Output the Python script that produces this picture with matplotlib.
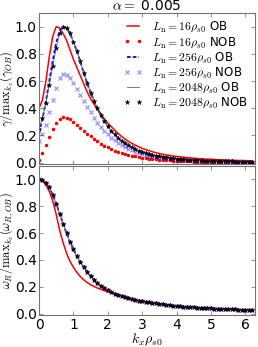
import numpy as np
import matplotlib
matplotlib.use("Agg")
import matplotlib.pyplot as plt

plt.rcParams["mathtext.fontset"] = "cm"
plt.rcParams["font.family"] = "DejaVu Sans"
plt.rcParams["xtick.direction"] = "in"
plt.rcParams["ytick.direction"] = "in"
plt.rcParams["xtick.top"] = True
plt.rcParams["ytick.right"] = True

# ---- k_x grid
kx = [0.0, 0.1, 0.2, 0.3, 0.4, 0.5, 0.6, 0.7, 0.8, 0.9,
      1.0, 1.1, 1.2, 1.3, 1.4, 1.5, 1.6, 1.7, 1.8, 1.9,
      2.0, 2.1, 2.2, 2.3, 2.4, 2.5, 2.6, 2.7, 2.8, 2.9,
      3.0, 3.1, 3.2, 3.3, 3.4, 3.5, 3.6, 3.7, 3.8, 3.9,
      4.0, 4.1, 4.2, 4.3, 4.4, 4.5, 4.6, 4.7, 4.8, 4.9,
      5.0, 5.1, 5.2, 5.3, 5.4, 5.5, 5.6, 5.7, 5.8, 5.9,
      6.0, 6.1, 6.2]

# ---- growth rate, normalised
gam_16_ob = [0.40, 0.46, 0.60, 0.78, 0.93, 1.00, 0.99, 0.95, 0.90, 0.83,
             0.76, 0.70, 0.64, 0.58, 0.52, 0.47, 0.43, 0.39, 0.355, 0.322,
             0.292, 0.265, 0.24, 0.215, 0.193, 0.174, 0.157, 0.142, 0.128, 0.116,
             0.105, 0.096, 0.088, 0.080, 0.073, 0.067, 0.062, 0.057, 0.053, 0.049,
             0.046, 0.043, 0.040, 0.037, 0.035, 0.033, 0.031, 0.029, 0.027, 0.026,
             0.025, 0.023, 0.022, 0.021, 0.020, 0.019, 0.018, 0.017, 0.016, 0.016,
             0.015, 0.014, 0.014]
gam_16_nob = [0.02, 0.07, 0.13, 0.19, 0.245, 0.288, 0.318, 0.333, 0.33, 0.318,
              0.30, 0.28, 0.258, 0.236, 0.214, 0.193, 0.174, 0.156, 0.140, 0.125,
              0.112, 0.100, 0.089, 0.080, 0.071, 0.064, 0.057, 0.051, 0.046, 0.041,
              0.037, 0.033, 0.030, 0.027, 0.024, 0.022, 0.020, 0.018, 0.016, 0.015,
              0.013, 0.012, 0.011, 0.010, 0.009, 0.008, 0.008, 0.007, 0.006, 0.006,
              0.005, 0.005, 0.005, 0.004, 0.004, 0.004, 0.004, 0.003, 0.003, 0.003,
              0.003, 0.003, 0.003]
gam_256_ob = [0.22, 0.32, 0.45, 0.60, 0.75, 0.88, 0.97, 1.00, 0.99, 0.95,
              0.89, 0.82, 0.745, 0.66, 0.585, 0.515, 0.455, 0.40, 0.35, 0.305,
              0.268, 0.235, 0.207, 0.182, 0.16, 0.142, 0.126, 0.112, 0.10, 0.089,
              0.080, 0.072, 0.065, 0.058, 0.052, 0.047, 0.043, 0.039, 0.035, 0.032,
              0.029, 0.027, 0.025, 0.023, 0.021, 0.019, 0.018, 0.016, 0.015, 0.014,
              0.013, 0.012, 0.011, 0.011, 0.010, 0.009, 0.009, 0.008, 0.008, 0.007,
              0.007, 0.007, 0.006]
gam_256_nob = [0.16, 0.21, 0.28, 0.37, 0.46, 0.55, 0.62, 0.65, 0.645, 0.62,
               0.585, 0.545, 0.50, 0.455, 0.41, 0.37, 0.33, 0.295, 0.262, 0.233,
               0.207, 0.184, 0.163, 0.145, 0.129, 0.115, 0.102, 0.091, 0.081, 0.072,
               0.065, 0.058, 0.052, 0.047, 0.042, 0.038, 0.034, 0.031, 0.028, 0.025,
               0.023, 0.021, 0.019, 0.017, 0.016, 0.015, 0.013, 0.012, 0.011, 0.010,
               0.010, 0.009, 0.008, 0.008, 0.007, 0.007, 0.006, 0.006, 0.005, 0.005,
               0.005, 0.004, 0.004]
gam_2048 = [0.25, 0.33, 0.44, 0.57, 0.71, 0.84, 0.95, 1.00, 0.99, 0.95,
            0.89, 0.82, 0.745, 0.66, 0.585, 0.515, 0.455, 0.40, 0.35, 0.305,
            0.268, 0.235, 0.207, 0.182, 0.16, 0.142, 0.126, 0.112, 0.10, 0.089,
            0.080, 0.072, 0.065, 0.058, 0.052, 0.047, 0.043, 0.039, 0.035, 0.032,
            0.029, 0.027, 0.025, 0.023, 0.021, 0.019, 0.018, 0.016, 0.015, 0.014,
            0.013, 0.012, 0.011, 0.011, 0.010, 0.009, 0.009, 0.008, 0.008, 0.007,
            0.007, 0.007, 0.006]

# ---- real frequency, normalised (all but 16 OB lie on one curve)
om_16_ob = [1.0, 0.99, 0.96, 0.91, 0.84, 0.74, 0.62, 0.53, 0.45, 0.39,
            0.345, 0.308, 0.277, 0.252, 0.232, 0.216, 0.202, 0.191, 0.181, 0.171,
            0.162, 0.155, 0.147, 0.140, 0.133, 0.126, 0.119, 0.112, 0.106, 0.100,
            0.094, 0.089, 0.084, 0.080, 0.076, 0.072, 0.069, 0.066, 0.063, 0.060,
            0.057, 0.055, 0.053, 0.051, 0.049, 0.047, 0.045, 0.044, 0.042, 0.041,
            0.039, 0.038, 0.037, 0.036, 0.034, 0.033, 0.032, 0.031, 0.030, 0.029,
            0.028, 0.027, 0.027]
om_rest = [1.0, 0.995, 0.975, 0.94, 0.885, 0.82, 0.745, 0.67, 0.60, 0.535,
           0.48, 0.43, 0.385, 0.345, 0.31, 0.28, 0.252, 0.228, 0.207, 0.19,
           0.175, 0.162, 0.15, 0.14, 0.13, 0.122, 0.115, 0.108, 0.102, 0.097,
           0.092, 0.088, 0.084, 0.080, 0.076, 0.072, 0.069, 0.066, 0.063, 0.060,
           0.057, 0.055, 0.053, 0.051, 0.049, 0.047, 0.045, 0.044, 0.042, 0.041,
           0.039, 0.038, 0.037, 0.036, 0.034, 0.033, 0.032, 0.031, 0.030, 0.029,
           0.028, 0.027, 0.027]

labels = [r"$L_\mathrm{n}=16\rho_{s0}$ OB",
          r"$L_\mathrm{n}=16\rho_{s0}$ NOB",
          r"$L_\mathrm{n}=256\rho_{s0}$ OB",
          r"$L_\mathrm{n}=256\rho_{s0}$ NOB",
          r"$L_\mathrm{n}=2048\rho_{s0}$ OB",
          r"$L_\mathrm{n}=2048\rho_{s0}$ NOB"]

W, H = 258, 347
fig = plt.figure(figsize=(W / 100, H / 100), dpi=100)
ax1 = fig.add_axes([39 / W, 1 - 164 / H, 216 / W, 151 / H])
ax2 = fig.add_axes([39 / W, 1 - 315 / H, 216 / W, 149 / H])


def draw(ax, series):
    s16o, s16n, s256o, s256n, s2048o, s2048n = series
    ax.plot(kx, s16o, "-", color="r", lw=1.1, label=labels[0])
    ax.plot(kx, s16n, ".", color="r", ms=3, label=labels[1])
    ax.plot(kx, s256o, "--", color="b", lw=1.3, dashes=(2, 1.2), label=labels[2])
    ax.plot(kx, s256n, "x", color="b", alpha=0.45, ms=3.5, mew=0.8, label=labels[3])
    ax.plot(kx, s2048o, "-", color="0.4", lw=0.6, label=labels[4])
    ax.plot(kx, s2048n, "*", color="k", ms=3.5, mew=0.3, label=labels[5])
    ax.set_xlim(0, 2 * np.pi)
    ax.set_ylim(-0.01, 1.1)
    ax.set_yticks([0.0, 0.2, 0.4, 0.6, 0.8, 1.0])
    ax.set_xticks([0, 1, 2, 3, 4, 5, 6])
    ax.tick_params(labelsize=10, length=3, width=0.5, color="0.4", pad=2)
    ax.tick_params(axis="y", pad=1.5)
    for sp in ax.spines.values():
        sp.set_color("0.45")
        sp.set_linewidth(0.8)


draw(ax1, [gam_16_ob, gam_16_nob, gam_256_ob, gam_256_nob, gam_2048, gam_2048])
draw(ax2, [om_16_ob, om_rest, om_rest, om_rest, om_rest, om_rest])

ax1.set_xticklabels([])
ax1.set_ylabel(r"$\gamma/\mathrm{max}_{k_z}(\gamma_{OB})$", fontsize=9)
ax2.set_ylabel(r"$\omega_R/\mathrm{max}_{k_z}(\omega_{R,OB})$", fontsize=9)
ax1.yaxis.set_label_coords(-0.106, 0.5)
ax2.yaxis.set_label_coords(-0.106, 0.5)
ax2.set_xlabel(r"$k_x\rho_{s0}$", fontsize=10, labelpad=0)
ax1.set_title(r"$\alpha=$ 0.005", fontsize=10, pad=0)

ax1.legend(loc="upper right", frameon=False, fontsize=8.5, numpoints=2,
           handlelength=1.6, handletextpad=0.8, labelspacing=0.08,
           borderaxespad=0.1, borderpad=0.5)

fig.savefig("out.png", dpi=100)
